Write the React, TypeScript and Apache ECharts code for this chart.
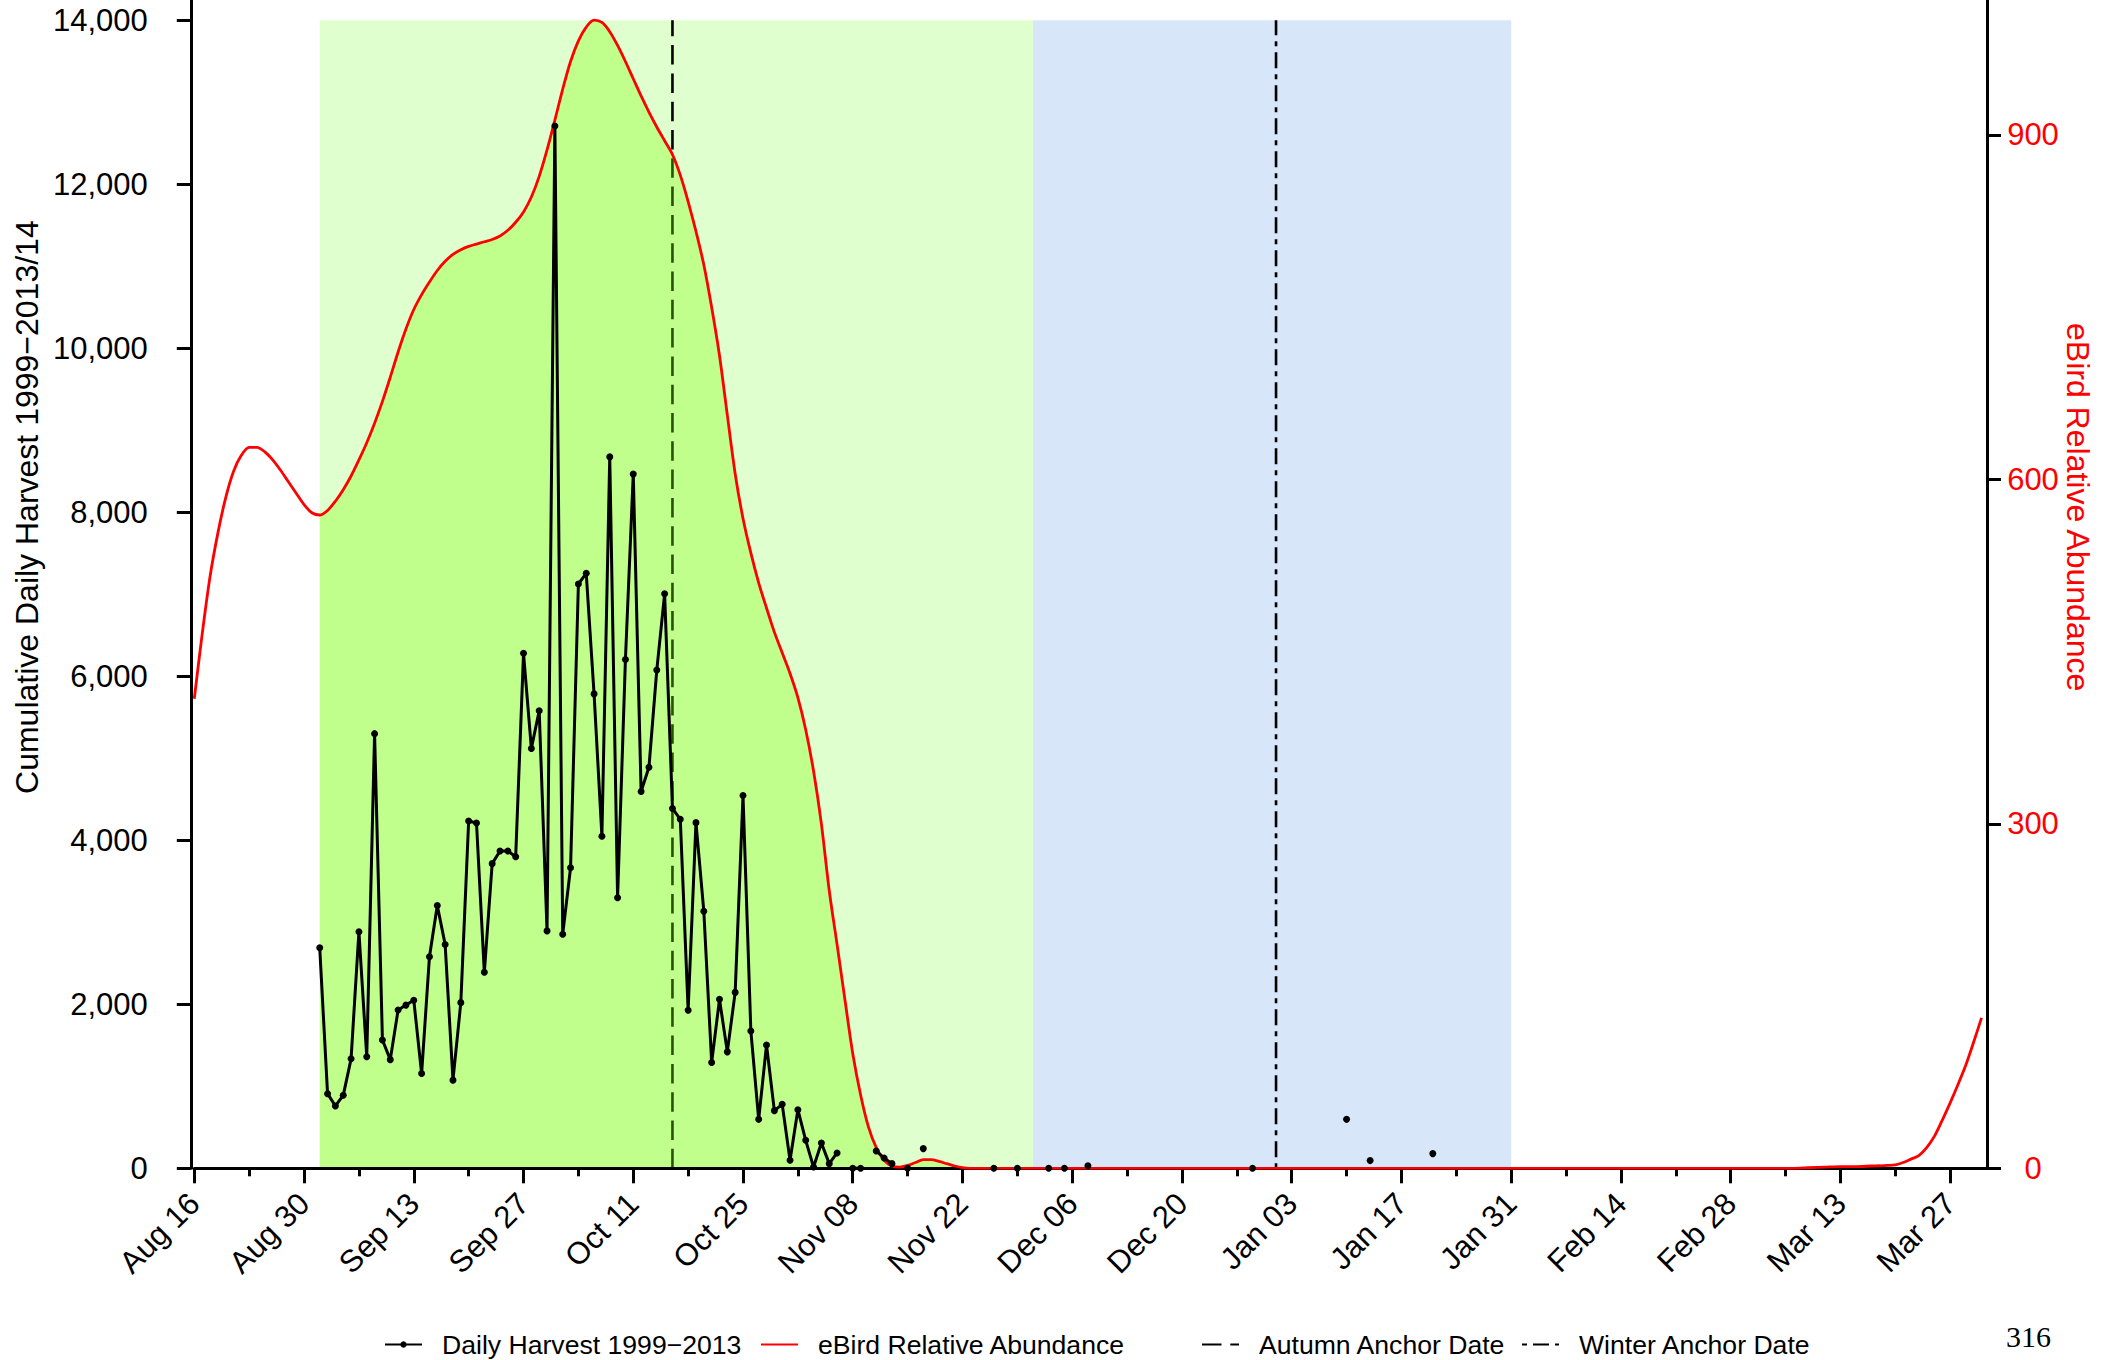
import React, { useEffect, useRef } from "react";
import * as echarts from "echarts";

// ---- tick labels / positions (day index counted from Aug 16) ----
const xTickLabels = [
  "Aug 16", "Aug 30", "Sep 13", "Sep 27", "Oct 11", "Oct 25", "Nov 08", "Nov 22",
  "Dec 06", "Dec 20", "Jan 03", "Jan 17", "Jan 31", "Feb 14", "Feb 28", "Mar 13", "Mar 27",
];
const xMajorTickDays = [0, 14, 28, 42, 56, 70, 84, 98, 112, 126, 140, 154, 168, 182, 196, 210, 224];
const xMinorTickDays = [7, 21, 35, 49, 63, 77, 91, 105, 119, 133, 147, 161, 175, 189, 203, 217];
const leftTicks = [0, 2000, 4000, 6000, 8000, 10000, 12000, 14000];
const rightTicks = [0, 300, 600, 900];

// ---- Daily harvest (null = no data that day) ----
const harvestDays = [
  16, 17, 18, 19, 20, 21, 22, 23, 24, 25, 26, 27, 28, 29, 30, 31, 32, 33, 34, 35,
  36, 37, 38, 39, 40, 41, 42, 43, 44, 45, 46, 47, 48, 49, 50, 51, 52, 53, 54, 55,
  56, 57, 58, 59, 60, 61, 62, 63, 64, 65, 66, 67, 68, 69, 70, 71, 72, 73, 74, 75,
  76, 77, 78, 79, 80, 81, 82, 83, 84, 85, 86, 87, 88, 89, 90, 91, 92, 93, 94,
  102, 103, 105, 106, 109, 110, 111, 112, 114, 115, 135, 136, 147, 148, 150, 151, 158,
];
const harvestValues = [
  2690, 910, 760, 890, 1335, 2885, 1360, 5300, 1565, 1325, 1930, 1990, 2050, 1155, 2580, 3205, 2730, 1075, 2020, 4235,
  4210, 2390, 3715, 3870, 3870, 3800, 6280, 5120, 5580, 2895, 12710, 2855, 3665, 7125, 7255, 5785, 4050, 8675, 3300, 6205,
  8465, 4595, 4890, 6075, 7005, 4388, 4256, 1927, 4215, 3135, 1290, 2060, 1420, 2145, 4545, 1675, 597, 1504, 703, 780,
  98, 715, 341, 15, 309, 57, 187, null, 0, 0, null, 211, 126, 57, null, 0, null, 240, null,
  0, null, 0, null, 0, null, 0, null, 30, null, 0, null, 597, null, 94, null, 179,
];

// ---- eBird relative abundance ----
const ebirdDays = [
  0, 1, 2, 3, 4, 5, 6, 7, 8, 9, 10, 11, 12, 13, 14, 15, 16, 17, 18, 19,
  20, 21, 22, 23, 24, 25, 26, 27, 28, 29, 30, 31, 32, 33, 34, 35, 36, 37, 38, 39,
  40, 41, 42, 43, 44, 45, 46, 47, 48, 49, 50, 51, 52, 53, 54, 55, 56, 57, 58, 59,
  60, 61, 62, 63, 64, 65, 66, 67, 68, 69, 70, 71, 72, 73, 74, 75, 76, 77, 78, 79,
  80, 81, 82, 83, 84, 85, 86, 87, 88, 89, 90, 91, 92, 93, 94, 95, 96, 97, 98, 99,
  110, 120, 130, 140, 150, 160, 170, 180, 190, 200, 204, 206, 208, 210, 212, 214,
  215, 216, 217, 218, 219, 220, 221, 222, 223, 224, 225, 226, 227, 228,
];
const ebirdValues = [
  409, 465, 515, 553, 584, 607, 621, 628, 628, 624, 617, 608, 598, 588, 578, 571, 569, 573, 581, 591,
  603, 617, 632, 649, 668, 689, 711, 731, 748, 761, 772, 782, 790, 796, 800, 803, 805, 807, 809, 812,
  817, 824, 833, 846, 864, 887, 913, 940, 964, 982, 994, 1000, 998, 990, 978, 964, 949, 934, 920, 907,
  895, 883, 865, 842, 816, 787, 750, 708, 656, 605, 566, 536, 510, 488, 467, 449, 431, 410, 382, 346,
  300, 242, 195, 147, 100, 64, 36, 18, 7, 2, 1, 2.5, 5, 7.5, 7.5, 6, 4, 2, 0.5, 0,
  0, 0, 0, 0, 0, 0, 0, 0, 0, 0, 0, 0.5, 1, 1.5, 1.5, 2,
  2.2, 2.5, 3, 5, 8, 11, 18, 28, 42, 57, 73, 90, 110, 131,
];

// ---- periods and anchors ----
const autumnPeriod = [16, 107];
const winterPeriod = [107, 168];
const shadeTop = 14000;
const autumnAnchorDay = 61;
const winterAnchorDay = 138;

const HARVEST = "Daily Harvest 1999\u22122013";
const EBIRD = "eBird Relative Abundance";
const AUTUMN = "Autumn Anchor Date";
const WINTER = "Winter Anchor Date";

const FONT = "Liberation Sans, Arial, Helvetica, sans-serif";
const X_MAX = 228.7;
const Y_LEFT_MAX = 16124;
const Y_RIGHT_MAX = Y_LEFT_MAX / 14;

export default function App() {
  const ref = useRef<HTMLDivElement>(null);

  useEffect(() => {
    if (!ref.current) return;
    const chart = echarts.init(ref.current, null, { renderer: "svg" });

    const harvestData = harvestDays.map((d, i) => [d, harvestValues[i] === null ? "-" : harvestValues[i]]);
    const ebirdData = ebirdDays.map((d, i) => [d, ebirdValues[i]]);
    const overlayData = ebirdData.filter((p) => (p[0] as number) >= autumnPeriod[0] && (p[0] as number) <= autumnPeriod[1]);

    const axisLineStyle = { color: "#000", width: 3 };
    const legendText = { color: "#000", fontSize: 26.6, fontFamily: FONT, padding: [0, 0, 0, 15] };
    const legendBase = {
      top: 1331,
      padding: 0,
      itemWidth: 37,
      itemHeight: 8,
      selectedMode: false,
      textStyle: legendText,
    };
    const noSymbol = { opacity: 0 };

    const option: any = {
      animation: false,
      backgroundColor: "#fff",
      grid: {
        left: 194.3,
        right: 120,
        top: -154,
        bottom: 191.7,
        containLabel: false,
        outerBoundsMode: "none",
      },
      xAxis: [
        {
          type: "value",
          position: "bottom",
          min: 0,
          max: X_MAX,
          z: 2,
          axisLine: { show: true, onZero: false, lineStyle: axisLineStyle },
          axisTick: { show: true, length: 15, lineStyle: axisLineStyle, customValues: xMajorTickDays },
          axisLabel: {
            show: true,
            customValues: xMajorTickDays,
            formatter: (v: number) => {
              const i = xMajorTickDays.indexOf(v);
              return i >= 0 ? xTickLabels[i] : "";
            },
            rotate: 45,
            margin: 30,
            color: "#000",
            fontSize: 31,
            fontFamily: FONT,
          },
          splitLine: { show: false },
        },
        {
          type: "value",
          position: "bottom",
          min: 0,
          max: X_MAX,
          z: 2,
          axisLine: { show: false, onZero: false },
          axisTick: { show: true, length: 8, lineStyle: axisLineStyle, customValues: xMinorTickDays },
          axisLabel: { show: false },
          splitLine: { show: false },
        },
      ],
      yAxis: [
        {
          type: "value",
          position: "left",
          min: 0,
          max: Y_LEFT_MAX,
          offset: 3.5,
          z: 2,
          name: "Cumulative Daily Harvest 1999\u22122013/14",
          nameLocation: "middle",
          nameGap: 148,
          nameRotate: 90,
          nameMoveOverlap: false,
          nameTextStyle: { color: "#000", fontSize: 32, fontFamily: FONT },
          axisLine: { show: true, onZero: false, lineStyle: axisLineStyle },
          axisTick: { show: true, length: 14, lineStyle: axisLineStyle, customValues: leftTicks },
          axisLabel: {
            customValues: leftTicks,
            formatter: (v: number) => v.toLocaleString("en-US"),
            margin: 43,
            color: "#000",
            fontSize: 31,
            fontFamily: FONT,
          },
          splitLine: { show: false },
        },
        {
          type: "value",
          position: "right",
          min: 0,
          max: Y_RIGHT_MAX,
          z: 2,
          name: EBIRD,
          nameLocation: "middle",
          nameGap: 75,
          nameRotate: -90,
          nameMoveOverlap: false,
          nameTextStyle: { color: "#FF0000", fontSize: 32, fontFamily: FONT },
          axisLine: { show: true, onZero: false, lineStyle: axisLineStyle },
          axisTick: { show: true, length: 14, lineStyle: axisLineStyle, customValues: rightTicks },
          axisLabel: {
            customValues: rightTicks,
            margin: 46,
            align: "center",
            color: "#FF0000",
            fontSize: 31,
            fontFamily: FONT,
          },
          splitLine: { show: false },
        },
      ],
      legend: [
        { ...legendBase, left: 384, data: [HARVEST] },
        { ...legendBase, left: 760, data: [EBIRD], itemStyle: noSymbol },
        { ...legendBase, left: 1201, data: [AUTUMN], itemStyle: noSymbol },
        { ...legendBase, left: 1521, data: [WINTER], itemStyle: noSymbol },
      ],
      series: [
        {
          type: "line",
          name: AUTUMN,
          xAxisIndex: 0,
          yAxisIndex: 0,
          data: [[autumnAnchorDay, 0], [autumnAnchorDay, shadeTop]],
          symbol: "none",
          silent: true,
          z: 1.2,
          itemStyle: { color: "#000" },
          lineStyle: { color: "#000", width: 2.6, type: [19.5, 8.8], cap: "butt" },
          markArea: {
            silent: true,
            z: 1,
            data: [
              [
                { xAxis: autumnPeriod[0], yAxis: 0, itemStyle: { color: "#DFFFCF" } },
                { xAxis: autumnPeriod[1], yAxis: shadeTop },
              ],
              [
                { xAxis: winterPeriod[0], yAxis: 0, itemStyle: { color: "#D8E6FA" } },
                { xAxis: winterPeriod[1], yAxis: shadeTop },
              ],
            ],
          },
        },
        {
          type: "line",
          name: WINTER,
          xAxisIndex: 0,
          yAxisIndex: 0,
          data: [[winterAnchorDay, 0], [winterAnchorDay, shadeTop]],
          symbol: "none",
          silent: true,
          z: 1.2,
          itemStyle: { color: "#000" },
          lineStyle: { color: "#000", width: 2.6, type: [5, 6, 16, 6], cap: "butt" },
        },
        {
          type: "line",
          name: "abundance-fill",
          xAxisIndex: 0,
          yAxisIndex: 1,
          data: overlayData,
          symbol: "none",
          silent: true,
          smooth: 0.3,
          z: 1.5,
          lineStyle: { width: 0, opacity: 0 },
          areaStyle: { color: "rgba(127,255,0,0.32)", opacity: 1 },
        },
        {
          type: "line",
          name: EBIRD,
          xAxisIndex: 0,
          yAxisIndex: 1,
          data: ebirdData,
          symbol: "none",
          silent: true,
          smooth: 0.3,
          z: 5,
          lineStyle: { color: "#FF0000", width: 2.8 },
          itemStyle: { color: "#FF0000" },
        },
        {
          type: "line",
          name: HARVEST,
          xAxisIndex: 0,
          yAxisIndex: 0,
          data: harvestData,
          symbol: "circle",
          symbolSize: 7,
          showSymbol: true,
          connectNulls: false,
          silent: true,
          z: 6,
          itemStyle: { color: "#000" },
          lineStyle: { color: "#000", width: 3 },
        },
      ],
      graphic: [
        {
          type: "text",
          left: 2006,
          top: 1321,
          silent: true,
          style: { text: "316", fill: "#000", fontSize: 30, fontFamily: "Liberation Serif, Times New Roman, serif" },
        },
      ],
    };

    chart.setOption(option);
    return () => chart.dispose();
  }, []);

  return (
    <div
      ref={ref}
      style={{ position: "absolute", left: 0, top: 0, width: 2107, height: 1360, background: "#fff" }}
    />
  );
}
